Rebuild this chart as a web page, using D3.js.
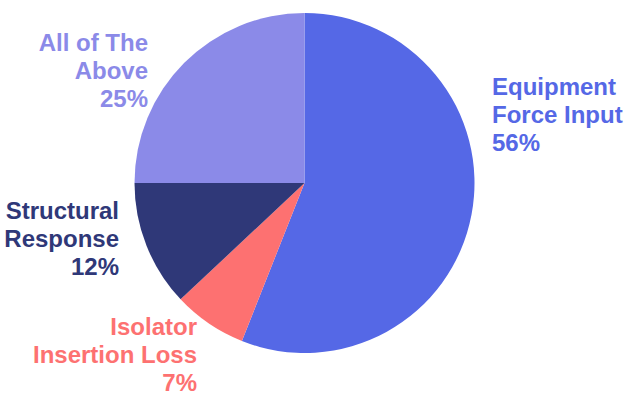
<!DOCTYPE html>
<html>
<head>
<meta charset="utf-8">
<script src="https://cdn.jsdelivr.net/npm/d3@7"></script>
<style>
  html, body { margin: 0; padding: 0; background: #fff; }
  svg { display: block; }
  text { font-family: "Liberation Sans", Arial, Helvetica, sans-serif; font-weight: bold; }
</style>
</head>
<body>
<svg id="chart" width="625" height="395"></svg>
<script>
// Share of responses per category (percent), clockwise from 12 o'clock
const categories = ["Equipment Force Input", "Isolator Insertion Loss", "Structural Response", "All of The Above"];
const values = [56, 7, 12, 25];
const labelLines = [
  ["Equipment", "Force Input"],
  ["Isolator", "Insertion Loss"],
  ["Structural", "Response"],
  ["All of The", "Above"]
];
const colors = ["#5568e6", "#fd7171", "#2f3878", "#8b8ae8"];

// Label placement: anchor point of the first baseline and text alignment
const labelLayout = [
  { x: 492, y: 95, anchor: "start" },
  { x: 197, y: 335, anchor: "end" },
  { x: 119, y: 219, anchor: "end" },
  { x: 148, y: 51, anchor: "end" }
];

const width = 625, height = 395;
const cx = 304.5, cy = 183, radius = 170;
const lineHeight = 28.2;

const svg = d3.select("#chart");

const pie = d3.pie().sort(null).value(d => d)(values);
const arc = d3.arc().innerRadius(0).outerRadius(radius);

const g = svg.append("g").attr("transform", `translate(${cx},${cy})`);
g.selectAll("path")
  .data(pie)
  .join("path")
  .attr("d", arc)
  .attr("fill", (d, i) => colors[i]);

const labels = svg.selectAll("text.label")
  .data(categories)
  .join("text")
  .attr("class", "label")
  .attr("x", (d, i) => labelLayout[i].x)
  .attr("y", (d, i) => labelLayout[i].y)
  .attr("text-anchor", (d, i) => labelLayout[i].anchor)
  .attr("fill", (d, i) => colors[i])
  .style("font-size", "24px");

labels.each(function(d, i) {
  const t = d3.select(this);
  const lines = labelLines[i].concat([values[i] + "%"]);
  lines.forEach((line, j) => {
    t.append("tspan")
      .attr("x", labelLayout[i].x)
      .attr("dy", j === 0 ? 0 : lineHeight)
      .text(line);
  });
});
</script>
</body>
</html>
